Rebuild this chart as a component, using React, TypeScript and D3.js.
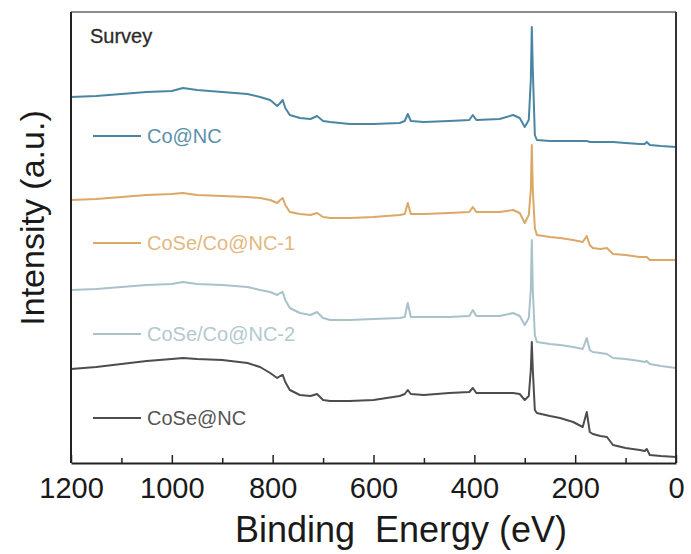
import React, { useRef, useEffect } from 'react';
import * as d3 from 'd3';

// binding energy sample points (eV), shared by all four spectra
const energy = [
  1200, 1150, 1100, 1050, 1000, 978, 950, 900, 850, 825, 805, 791, 785, 780, 775, 766, 746, 725, 712, 700,
  686, 647, 600, 548, 538, 532, 526, 500, 450, 410, 403, 396, 350, 323, 310, 300, 292, 288, 286, 284,
  280, 276, 250, 230, 204, 185, 177, 171, 165, 150, 137, 125, 100, 72, 62, 58, 52, 30, 0,
];

// intensities (a.u., stacked with offsets as in the figure)
const coNC = [
  366, 367, 369, 371, 372, 375, 373, 371, 369, 366, 363, 357, 360, 363, 355, 348, 345, 344, 347, 342,
  341, 339, 339, 340, 342, 349, 342, 341, 342, 343, 348, 343, 344, 348, 345, 336, 343, 383, 436, 393,
  328, 323, 322, 322, 322, 322, 322, 321, 321, 321, 321, 321, 320, 319, 319, 321, 318, 317, 316,
];
const coseCoNC1 = [
  263, 264, 266, 268, 269, 270, 268, 267, 266, 265, 263, 260, 263, 265, 258, 251, 249, 248, 250, 246,
  245, 245, 246, 248, 249, 260, 249, 249, 250, 251, 256, 251, 251, 253, 250, 240, 248, 273, 318, 273,
  235, 228, 226, 225, 223, 221, 227, 218, 215, 214, 215, 209, 208, 206, 206, 206, 203, 203, 203,
];
const coseCoNC2 = [
  173, 174, 176, 178, 179, 181, 179, 178, 176, 173, 171, 168, 170, 171, 163, 155, 150, 148, 151, 145,
  143, 143, 144, 145, 146, 160, 146, 146, 146, 147, 153, 147, 147, 150, 147, 138, 145, 173, 223, 173,
  128, 121, 119, 118, 116, 114, 125, 113, 111, 110, 109, 105, 104, 102, 101, 102, 99, 97, 95,
];
const coseNC = [
  94, 96, 99, 102, 104, 105, 104, 103, 100, 96, 90, 85, 87, 88, 81, 73, 68, 67, 69, 63,
  62, 62, 63, 67, 69, 73, 69, 68, 70, 71, 75, 70, 70, 70, 69, 63, 67, 93, 121, 93,
  53, 50, 47, 45, 41, 36, 51, 31, 29, 27, 26, 18, 15, 13, 12, 14, 8, 7, 6,
];

const seriesNames = ['Co@NC', 'CoSe/Co@NC-1', 'CoSe/Co@NC-2', 'CoSe@NC'];
const seriesValues = [coNC, coseCoNC1, coseCoNC2, coseNC];
const lineColors = ['#4a86a3', '#dba865', '#a9c2c9', '#4d4d4d'];
const textColors = ['#5b91ab', '#e2b87f', '#b3c9cf', '#555555'];

const majorTicks = [1200, 1000, 800, 600, 400, 200, 0];
const minorTicks = [1100, 900, 700, 500, 300, 100];

const W = 691;
const H = 554;
const margin = { top: 12, right: 15, bottom: 91, left: 71 };
const font = '"Liberation Sans", Arial, Helvetica, sans-serif';

const App = () => {
  const ref = useRef(null);

  useEffect(() => {
    const root = d3.select(ref.current);
    root.selectAll('*').remove();

    const iw = W - margin.left - margin.right;
    const ih = H - margin.top - margin.bottom;

    const x = d3.scaleLinear().domain([1200, 0]).range([0, iw]);
    const y = d3.scaleLinear().domain([0, 451]).range([ih, 0]);

    const g = root.append('g').attr('transform', `translate(${margin.left}, ${margin.top})`);

    // spectra
    const line = d3
      .line()
      .x((d) => x(d[0]))
      .y((d) => y(d[1]));

    seriesValues.forEach((vals, i) => {
      g.append('path')
        .datum(energy.map((e, j) => [e, vals[j]]))
        .attr('fill', 'none')
        .attr('stroke', lineColors[i])
        .attr('stroke-width', 2)
        .attr('stroke-linejoin', 'round')
        .attr('d', line);
    });

    // frame: top + right + left
    g.append('line').attr('x1', 0).attr('x2', iw).attr('y1', 0).attr('y2', 0)
      .attr('stroke', '#666').attr('stroke-width', 1.5);
    g.append('line').attr('x1', iw).attr('x2', iw).attr('y1', 0).attr('y2', ih)
      .attr('stroke', '#333').attr('stroke-width', 2);
    g.append('line').attr('x1', 0).attr('x2', 0).attr('y1', 0).attr('y2', ih)
      .attr('stroke', '#222').attr('stroke-width', 2);

    // bottom axis, ticks inward
    const ax = g.append('g')
      .attr('transform', `translate(0, ${ih})`)
      .call(
        d3.axisBottom(x)
          .tickValues(majorTicks)
          .tickFormat(d3.format('d'))
          .tickSizeInner(-8)
          .tickSizeOuter(0)
          .tickPadding(14),
      );
    ax.select('.domain').attr('stroke', '#222').attr('stroke-width', 2);
    ax.selectAll('.tick line').attr('stroke', '#222').attr('stroke-width', 1.5);
    ax.selectAll('text').attr('font-size', 29).attr('font-family', font).attr('fill', '#1a1a1a');

    const axm = g.append('g')
      .attr('transform', `translate(0, ${ih})`)
      .call(d3.axisBottom(x).tickValues(minorTicks).tickSizeInner(-5).tickSizeOuter(0).tickFormat(() => ''));
    axm.select('.domain').remove();
    axm.selectAll('.tick line').attr('stroke', '#222').attr('stroke-width', 1.5);

    // axis titles
    root.append('text')
      .attr('x', 401).attr('y', 542)
      .attr('text-anchor', 'middle')
      .attr('font-size', 36).attr('font-family', font).attr('fill', '#1a1a1a')
      .style('white-space', 'pre')
      .text('Binding  Energy (eV)');

    root.append('text')
      .attr('transform', 'translate(44, 218) rotate(-90)')
      .attr('text-anchor', 'middle')
      .attr('font-size', 34).attr('font-family', font).attr('fill', '#1a1a1a')
      .text('Intensity (a.u.)');

    root.append('text')
      .attr('x', 90).attr('y', 43)
      .attr('font-size', 20).attr('font-family', font).attr('fill', '#2b2b2b')
      .attr('stroke', '#2b2b2b').attr('stroke-width', 0.3)
      .text('Survey');

    // legend
    const legendY = [136, 243, 334, 418];
    seriesNames.forEach((name, i) => {
      root.append('line')
        .attr('x1', 93).attr('x2', 141).attr('y1', legendY[i]).attr('y2', legendY[i])
        .attr('stroke', lineColors[i]).attr('stroke-width', 2);
      root.append('text')
        .attr('x', 147).attr('y', legendY[i] + 7)
        .attr('font-size', 20).attr('font-family', font).attr('fill', textColors[i])
        .text(name);
    });
  }, []);

  return (
    <svg
      ref={ref}
      width={W}
      height={H}
      style={{ position: 'absolute', left: 0, top: 0, background: '#fff' }}
    ></svg>
  );
};

export default App;
